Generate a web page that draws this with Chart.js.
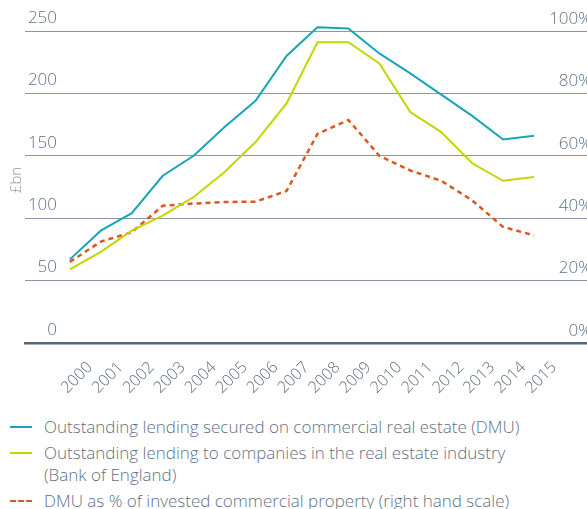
<!DOCTYPE html>
<html>
<head>
<meta charset="utf-8">
<title>Commercial real estate lending</title>
<script src="https://cdn.jsdelivr.net/npm/chart.js@4/dist/chart.umd.min.js"></script>
<style>
    body {
        margin: 0;
        background: #ffffff;
        font-family: "Open Sans", sans-serif;
    }
    .chart-wrap {
        position: relative;
        width: 587px;
        height: 400px;
    }
    .legend {
        margin: 16px 0 0 10px;
        color: #5f7286;
        font-size: 17px;
        font-weight: 300;
        line-height: 22.5px;
    }
    .legend-item {
        display: flex;
        align-items: flex-start;
        margin-bottom: 3px;
    }
    .legend-item span.text {
        max-width: 488px;
    }
    .legend-mark {
        flex: 0 0 22px;
        height: 0;
        margin: 10px 12px 0 0;
        border-top: 2px solid;
    }
    .legend-mark.dashed {
        border-top: 2px dashed;
    }
</style>
</head>
<body>
<div class="chart-wrap">
    <canvas id="lendingChart" width="587" height="400"></canvas>
</div>
<div class="legend" id="chartLegend"></div>

<script>
// data
const years = [2000, 2001, 2002, 2003, 2004, 2005, 2006, 2007, 2008, 2009, 2010, 2011, 2012, 2013, 2014, 2015];
const dmuLending = [67, 90, 104, 134, 150, 173, 194, 230, 253, 252, 232, 216, 199, 182, 163, 166];
const boeLending = [59, 73, 90, 102, 117, 137, 161, 192, 241, 241, 224, 185, 169, 144, 130, 133];
const dmuPercent = [26, 32.5, 35.5, 44, 44.7, 45.2, 45.3, 48.7, 67, 71.5, 60, 55.3, 52, 45.7, 37.2, 34.5];

const leftTicks = [0, 50, 100, 150, 200, 250];
const rightTicks = [0, 20, 40, 60, 80, 100];

const seriesLabels = [
    'Outstanding lending secured on commercial real estate (DMU)',
    'Outstanding lending to companies in the real estate industry (Bank of England)',
    'DMU as % of invested commercial property (right hand scale)'
];

const textColor = '#5f7286';
const gridColor = '#8898a9';
const colors = ['#19a5b7', '#c5d500', '#e0561f'];
const fontFamily = '"Open Sans", sans-serif';

function toPoints(values) {
    return years.map((yr, i) => ({ x: yr, y: values[i] }));
}

function buildLegend() {
    const legend = document.getElementById('chartLegend');
    seriesLabels.forEach((label, i) => {
        const item = document.createElement('div');
        item.className = 'legend-item';
        const mark = document.createElement('span');
        mark.className = 'legend-mark' + (i === 2 ? ' dashed' : '');
        mark.style.borderColor = colors[i];
        const text = document.createElement('span');
        text.className = 'text';
        text.textContent = label;
        item.appendChild(mark);
        item.appendChild(text);
        legend.appendChild(item);
    });
}

// left axis labels sit right-aligned above each gridline, inside the plot
const leftLabelsPlugin = {
    id: 'leftLabels',
    afterDraw(chart) {
        const scale = chart.scales.y;
        const ctx = chart.ctx;
        ctx.save();
        ctx.fillStyle = textColor;
        ctx.font = '300 17px ' + fontFamily;
        ctx.textAlign = 'right';
        ctx.textBaseline = 'middle';
        scale.ticks.forEach(t => {
            ctx.fillText(String(t.value), 57, scale.getPixelForValue(t.value) - 13);
        });

        // axis title
        ctx.translate(17, 180);
        ctx.rotate(-Math.PI / 2);
        ctx.textAlign = 'center';
        ctx.fillStyle = '#8c9aa9';
        ctx.font = '300 15px ' + fontFamily;
        ctx.fillText('£bn', 0, 0);
        ctx.restore();
    }
};

document.addEventListener('DOMContentLoaded', () => {
    buildLegend();

    const ctx = document.getElementById('lendingChart').getContext('2d');

    new Chart(ctx, {
        type: 'line',
        data: {
            datasets: [
                {
                    label: seriesLabels[0],
                    data: toPoints(dmuLending),
                    borderColor: colors[0],
                    borderWidth: 2,
                    clip: false,
                    yAxisID: 'y'
                },
                {
                    label: seriesLabels[1],
                    data: toPoints(boeLending),
                    borderColor: colors[1],
                    borderWidth: 2,
                    clip: false,
                    yAxisID: 'y'
                },
                {
                    label: seriesLabels[2],
                    data: toPoints(dmuPercent),
                    borderColor: colors[2],
                    borderWidth: 2.5,
                    borderDash: [5, 4],
                    clip: false,
                    yAxisID: 'y1'
                }
            ]
        },
        options: {
            responsive: false,
            animation: false,
            layout: { padding: { top: 31, left: 0, right: 0, bottom: 0 } },
            elements: {
                point: { radius: 0 },
                line: { tension: 0, borderCapStyle: 'butt' }
            },
            plugins: {
                legend: { display: false },
                tooltip: { enabled: false }
            },
            scales: {
                x: {
                    type: 'linear',
                    min: 1998.55,
                    max: 2016.71,
                    afterBuildTicks: scale => {
                        scale.ticks = years.map(v => ({ value: v }));
                    },
                    afterFit: scale => {
                        scale.height = 57;
                    },
                    // ticks are not drawn (grid hidden), tickLength only pushes the rotated labels down
                    grid: { display: false, drawTicks: true, tickLength: 9 },
                    border: { display: true, color: '#56677a', width: 2.5 },
                    ticks: {
                        autoSkip: false,
                        minRotation: 45,
                        maxRotation: 45,
                        padding: 6,
                        labelOffset: 20,
                        color: textColor,
                        font: { family: fontFamily, size: 16, weight: '300' },
                        callback: value => String(value)
                    }
                },
                y: {
                    position: 'left',
                    min: 0,
                    max: 250,
                    afterBuildTicks: scale => {
                        scale.ticks = leftTicks.map(v => ({ value: v }));
                    },
                    afterFit: scale => {
                        scale.width = 25;
                    },
                    grid: { color: gridColor, lineWidth: 1, drawTicks: false },
                    border: { display: false },
                    ticks: { display: false }
                },
                y1: {
                    position: 'right',
                    min: 0,
                    max: 100,
                    afterBuildTicks: scale => {
                        scale.ticks = rightTicks.map(v => ({ value: v }));
                    },
                    afterFit: scale => {
                        scale.width = 0;
                    },
                    grid: { display: false, drawTicks: false },
                    border: { display: false },
                    ticks: {
                        mirror: true,
                        padding: 5,
                        labelOffset: -12,
                        color: textColor,
                        font: { family: fontFamily, size: 17, weight: '300' },
                        callback: value => value + '%'
                    }
                }
            }
        },
        plugins: [leftLabelsPlugin]
    });
});
</script>
</body>
</html>
